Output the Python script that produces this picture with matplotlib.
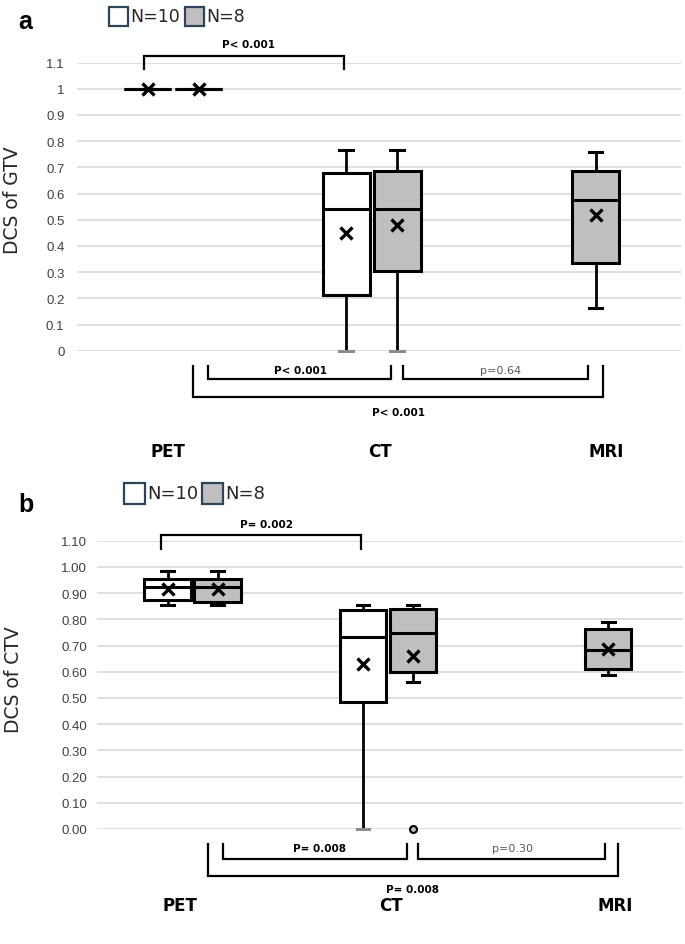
import numpy as np
import matplotlib
matplotlib.use("Agg")
from matplotlib import pyplot as plt
from matplotlib.patches import Rectangle
from matplotlib.ticker import FuncFormatter

# categories and series
categories = ['PET', 'CT', 'MRI']
series_names = ['N=10', 'N=8']

# box order: PET N=10, PET N=8, CT N=10, CT N=8, MRI N=8
box_cat = ['PET', 'PET', 'CT', 'CT', 'MRI']
box_series = ['N=10', 'N=8', 'N=10', 'N=8', 'N=8']

# panel a : DCS of GTV
gtv_whislo = [1.0, 1.0, 0.0, 0.0, 0.163]
gtv_q1 = [1.0, 1.0, 0.214, 0.305, 0.335]
gtv_med = [1.0, 1.0, 0.541, 0.541, 0.576]
gtv_q3 = [1.0, 1.0, 0.680, 0.687, 0.685]
gtv_whishi = [1.0, 1.0, 0.766, 0.766, 0.757]
gtv_mean = [1.0, 1.0, 0.449, 0.481, 0.518]
gtv_fliers = [[], [], [], [], []]

# panel b : DCS of CTV
ctv_whislo = [0.854, 0.854, 0.0, 0.562, 0.588]
ctv_q1 = [0.875, 0.867, 0.486, 0.600, 0.611]
ctv_med = [0.923, 0.923, 0.731, 0.748, 0.683]
ctv_q3 = [0.953, 0.953, 0.834, 0.840, 0.763]
ctv_whishi = [0.986, 0.986, 0.854, 0.854, 0.791]
ctv_mean = [0.915, 0.915, 0.628, 0.659, 0.686]
ctv_fliers = [[], [], [], [0.0], []]

# p-values
gtv_p_top = 'P< 0.001'
gtv_p_pet_ct = 'P< 0.001'
gtv_p_ct_mri = 'p=0.64'
gtv_p_pet_mri = 'P< 0.001'
ctv_p_top = 'P= 0.002'
ctv_p_pet_ct = 'P= 0.008'
ctv_p_ct_mri = 'p=0.30'
ctv_p_pet_mri = 'P= 0.008'

FILL = {'N=10': 'white', 'N=8': '#bfbfbf'}
GRID = '#dcdcdc'
TICK = '#404040'
LEG_EDGE = '#2f4359'

W, H = 685, 945
fig = plt.figure(figsize=(W / 100, H / 100), dpi=100)


def px2fig(x, y):
    return x / W, 1 - y / H


def draw_panel(ax, whislo, q1, med, q3, whishi, mean, fliers, cat_x, off, width, fmt):
    stats = []
    pos = []
    for i in range(len(box_cat)):
        stats.append(dict(whislo=whislo[i], q1=q1[i], med=med[i], q3=q3[i],
                          whishi=whishi[i], mean=mean[i], fliers=fliers[i]))
        c = box_cat[i]
        n_in_cat = box_cat.count(c)
        if n_in_cat == 1:
            pos.append(cat_x[c])
        else:
            pos.append(cat_x[c] + (-off if box_series[i] == 'N=10' else off))
    res = ax.bxp(stats, positions=pos, widths=width, showmeans=True,
                 patch_artist=True, manage_ticks=False, capwidths=0.066,
                 boxprops=dict(edgecolor='black', linewidth=2.2),
                 medianprops=dict(color='black', linewidth=2.2),
                 whiskerprops=dict(color='black', linewidth=2.0),
                 capprops=dict(color='black', linewidth=2.2),
                 meanprops=dict(marker='x', markeredgecolor='black',
                                markersize=8, markeredgewidth=2.4),
                 flierprops=dict(marker='o', markerfacecolor='#bfbfbf',
                                 markeredgecolor='black', markersize=5,
                                 markeredgewidth=1.5))
    for b, s in zip(res['boxes'], box_series):
        b.set_facecolor(FILL[s])
    for cap in res['caps']:
        if cap.get_ydata()[0] == 0:
            cap.set_color('#8c8c8c')
    for ln in res['boxes'] + res['medians'] + res['whiskers'] + res['caps'] + res['means'] + res['fliers']:
        ln.set_clip_on(False)
        ln.set_zorder(3)

    ax.set_ylim(0, 1.1)
    ax.set_yticks(np.round(np.arange(0, 1.101, 0.1), 2))
    ax.yaxis.set_major_formatter(FuncFormatter(fmt))
    ax.yaxis.grid(True, color=GRID, linewidth=1.3)
    ax.set_axisbelow(True)
    ax.set_xticks([])
    for sp in ax.spines.values():
        sp.set_visible(False)
    ax.tick_params(axis='y', length=0, colors=TICK, labelsize=9.5)
    for t in ax.get_yticklabels():
        t.set_fontfamily('Liberation Sans')


def bracket(ax, x0, x1, y_tick, y_bar):
    ax.plot([x0, x0, x1, x1], [y_tick, y_bar, y_bar, y_tick], color='black',
            linewidth=1.6, clip_on=False, solid_joinstyle='miter')


# ---------------- panel a ----------------
ax1 = fig.add_axes([77 / W, 1 - 351.7 / H, 604 / W, 288.2 / H])
ax1.set_xlim(-0.4855, 2.561)
cat_a = {'PET': 0.0, 'CT': 1.0, 'MRI': 2.132}
draw_panel(ax1, gtv_whislo, gtv_q1, gtv_med, gtv_q3, gtv_whishi, gtv_mean,
           gtv_fliers, cat_a, 0.1286, 0.237, lambda v, p: '%g' % v)
ax1.tick_params(axis='y', pad=9)

bracket(ax1, -0.148, 0.861, 1.075, 1.125)
ax1.text(0.38, 1.17, gtv_p_top, ha='center', va='center', fontsize=7.5, fontweight='bold')
bracket(ax1, 0.175, 1.098, -0.058, -0.108)
ax1.text(0.64, -0.072, gtv_p_pet_ct, ha='center', va='center', fontsize=7.5, fontweight='bold')
bracket(ax1, 1.159, 2.092, -0.058, -0.108)
ax1.text(1.65, -0.072, gtv_p_ct_mri, ha='center', va='center', fontsize=8, color='#595959')
bracket(ax1, 0.0997, 2.168, -0.058, -0.177)
ax1.text(1.134, -0.234, gtv_p_pet_mri, ha='center', va='center', fontsize=7.5, fontweight='bold')
for c, lx in zip(categories, [-0.029, 1.045, 2.184]):
    ax1.text(lx, -0.383, c, ha='center', va='center', fontsize=12, fontweight='bold')
fig.text(*px2fig(13, 200), 'DCS of GTV', fontsize=13.5, color='#262626',
         rotation=90, ha='center', va='center')

# ---------------- panel b ----------------
ax2 = fig.add_axes([97 / W, 1 - 830 / H, 586 / W, 288.3 / H])
ax2.set_xlim(-0.490, 2.511)
cat_b = {'PET': 0.0, 'CT': 1.0, 'MRI': 2.128}
draw_panel(ax2, ctv_whislo, ctv_q1, ctv_med, ctv_q3, ctv_whishi, ctv_mean,
           ctv_fliers, cat_b, 0.128, 0.238, lambda v, p: '%.2f' % v)
ax2.tick_params(axis='y', pad=7)

bracket(ax2, -0.164, 0.860, 1.068, 1.1205)
ax2.text(0.376, 1.163, ctv_p_top, ha='center', va='center', fontsize=7.5, fontweight='bold')
bracket(ax2, 0.156, 1.099, -0.057, -0.114)
ax2.text(0.647, -0.072, ctv_p_pet_ct, ha='center', va='center', fontsize=7.5, fontweight='bold')
bracket(ax2, 1.155, 2.111, -0.057, -0.114)
ax2.text(1.64, -0.072, ctv_p_ct_mri, ha='center', va='center', fontsize=8, color='#595959')
bracket(ax2, 0.078, 2.178, -0.057, -0.181)
ax2.text(1.128, -0.228, ctv_p_pet_mri, ha='center', va='center', fontsize=7.5, fontweight='bold')
for c, lx in zip(categories, [-0.063, 1.013, 2.165]):
    ax2.text(lx, -0.289, c, ha='center', va='center', fontsize=12, fontweight='bold')
fig.text(*px2fig(14, 680), 'DCS of CTV', fontsize=13.5, color='#262626',
         rotation=90, ha='center', va='center')

# ---------------- panel letters and legends ----------------
fig.text(*px2fig(18, 22), 'a', fontsize=18, fontweight='bold', ha='left', va='center',
         family='Liberation Sans')
fig.text(*px2fig(18, 505), 'b', fontsize=18, fontweight='bold', ha='left', va='center',
         family='Liberation Sans')


def legend(x0, yc, sq, gap_txt, fs, n10_w):
    x = x0
    for s in series_names:
        lx, ly = px2fig(x, yc + sq / 2)
        fig.patches.append(Rectangle((lx, ly), sq / W, sq / H, transform=fig.transFigure,
                                     facecolor=FILL[s], edgecolor=LEG_EDGE, linewidth=1.6))
        fig.text(*px2fig(x + sq + gap_txt, yc), s, fontsize=fs, ha='left', va='center',
                 color='#262626')
        x = x + sq + gap_txt + n10_w


legend(109, 17.5, 19, 2, 12.5, 55)
legend(124, 494.5, 21, 2, 13, 55)

fig.savefig('out.png', dpi=100)
